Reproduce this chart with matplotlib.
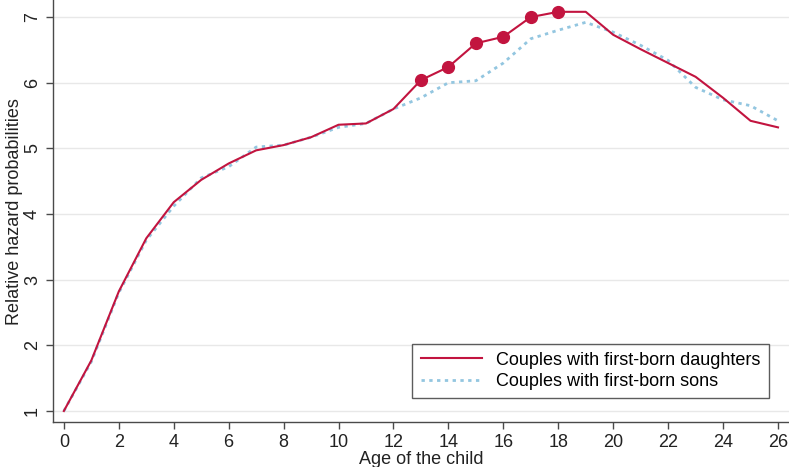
import matplotlib

matplotlib.use("Agg")
import matplotlib.pyplot as plt

plt.rcParams["font.family"] = ["Liberation Sans", "DejaVu Sans"]

ages = list(range(27))
daughters = [1.00, 1.77, 2.82, 3.63, 4.18, 4.52, 4.77, 4.97, 5.05, 5.17, 5.36, 5.38,
             5.60, 6.04, 6.24, 6.60, 6.70, 7.00, 7.08, 7.08, 6.73, 6.51, 6.30, 6.09,
             5.77, 5.42, 5.32]
sons = [1.00, 1.75, 2.80, 3.60, 4.12, 4.55, 4.72, 5.02, 5.05, 5.17, 5.32, 5.38,
        5.60, 5.77, 6.00, 6.03, 6.30, 6.67, 6.80, 6.92, 6.77, 6.57, 6.34, 5.93,
        5.74, 5.65, 5.42]
# ages where the difference is marked
marked = [13, 14, 15, 16, 17, 18]

red = "#c2143f"
blue = "#93c6e0"
axis_col = "#4a4a4a"

fig = plt.figure(figsize=(7.89, 4.67), dpi=100)
ax = fig.add_axes([0.067, 0.096, 0.933, 0.904])

ax.plot(ages, daughters, color=red, linewidth=1.5,
        label="Couples with first-born daughters", zorder=3)
ax.plot(ages, sons, color=blue, linewidth=2.0, linestyle=(0, (1.2, 1.6)),
        label="Couples with first-born sons", zorder=2)
ax.plot(marked, [daughters[a] for a in marked], "o", color=red,
        markersize=8.5, zorder=4)

ax.set_xlim(-0.4, 26.4)
ax.set_ylim(0.83, 7.26)
ax.set_xticks(range(0, 27, 2))
ax.set_yticks(range(1, 8))
ax.yaxis.grid(True, color="#e8e8e8", linewidth=1.0)
ax.set_axisbelow(True)

for side in ("top", "right"):
    ax.spines[side].set_visible(False)
for side in ("left", "bottom"):
    ax.spines[side].set_color(axis_col)
    ax.spines[side].set_linewidth(1.0)

ax.tick_params(axis="both", colors=axis_col, labelcolor="#222222",
               labelsize=13, length=5, width=1.0)
plt.setp(ax.get_yticklabels(), rotation=90, va="center")

ax.set_xlabel("Age of the child", fontsize=13, color="#222222", labelpad=0)
ax.set_ylabel("Relative hazard probabilities", fontsize=13, color="#222222",
              labelpad=1)

leg = ax.legend(loc="lower right", bbox_to_anchor=(0.985, 0.035), fontsize=13,
                frameon=True, fancybox=False, handlelength=3.4,
                borderpad=0.45, labelspacing=0.25, handletextpad=0.8)
leg.get_frame().set_edgecolor("#333333")
leg.get_frame().set_linewidth(1.0)

fig.savefig("out.png", dpi=100)
plt.close(fig)
